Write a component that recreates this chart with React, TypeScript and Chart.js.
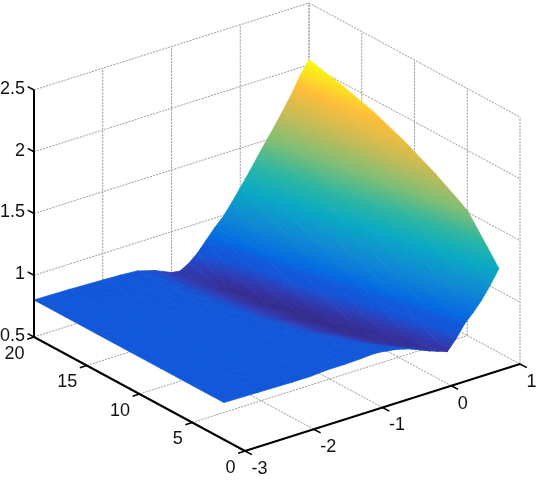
import React, { useEffect, useRef } from "react";
import { Chart, registerables } from "chart.js";

Chart.register(...registerables);

const xTicks = [-3, -2, -1, 0, 1];
const yTicks = [0, 5, 10, 15, 20];
const zTicks = [0.5, 1, 1.5, 2, 2.5];
const zTickLabels = ["0.5", "1", "1.5", "2", "2.5"];

const surfaceX = [-3, -2.5, -2, -1.75, -1.5, -1.25, -1, -0.875, -0.75, -0.625, -0.5, -0.375, -0.25, -0.125, 0, 0.125, 0.25, 0.375, 0.5, 0.625, 0.75, 0.875, 1];
const surfaceY = [20, 17, 14, 11, 8, 5, 2];

const zAtY20 = [0.8, 0.795, 0.785, 0.78, 0.77, 0.73, 0.67, 0.66, 0.7, 0.76, 0.84, 0.92, 0.99, 1.08, 1.18, 1.28, 1.385, 1.49, 1.59, 1.7, 1.81, 1.94, 2.04];
const zAtY17 = [0.8, 0.8, 0.795, 0.79, 0.775, 0.735, 0.68, 0.655, 0.63, 0.6, 0.67, 0.78, 0.89, 0.98, 1.06, 1.15, 1.25, 1.36, 1.49, 1.6, 1.73, 1.87, 1.98];
const zAtY14 = [0.8, 0.8, 0.8, 0.795, 0.785, 0.75, 0.7, 0.67, 0.645, 0.62, 0.595, 0.64, 0.76, 0.86, 0.95, 1.03, 1.12, 1.24, 1.39, 1.5, 1.62, 1.78, 1.905];
const zAtY11 = [0.8, 0.8, 0.8, 0.8, 0.795, 0.77, 0.72, 0.695, 0.665, 0.64, 0.615, 0.585, 0.625, 0.72, 0.83, 0.93, 1.01, 1.09, 1.18, 1.35, 1.5, 1.67, 1.8];
const zAtY8 = [0.8, 0.8, 0.8, 0.8, 0.8, 0.79, 0.755, 0.73, 0.7, 0.675, 0.65, 0.625, 0.6, 0.61, 0.68, 0.8, 0.9, 0.98, 1.06, 1.15, 1.3, 1.51, 1.67];
const zAtY5 = [0.8, 0.8, 0.8, 0.8, 0.8, 0.8, 0.795, 0.785, 0.765, 0.74, 0.71, 0.68, 0.65, 0.625, 0.605, 0.64, 0.77, 0.86, 0.94, 1.02, 1.12, 1.26, 1.515];
const zAtY2 = [0.8, 0.795, 0.79, 0.79, 0.8, 0.8, 0.805, 0.81, 0.81, 0.8, 0.79, 0.772, 0.75, 0.72, 0.69, 0.665, 0.64, 0.72, 0.82, 0.89, 0.97, 1.07, 1.18];
const surfaceZ = [zAtY20, zAtY17, zAtY14, zAtY11, zAtY8, zAtY5, zAtY2];

const colorZ = [0.585, 0.64, 0.7, 0.76, 0.81, 0.86, 1.0, 1.18, 1.33, 1.51, 1.685, 1.865, 2.04];
const colorRGB = [
  [52, 42, 138], [52, 50, 160], [42, 66, 190], [19, 86, 216], [18, 88, 218], [5, 105, 226], [15, 135, 212],
  [10, 170, 195], [45, 182, 162], [130, 190, 115], [200, 187, 85], [254, 190, 57], [249, 251, 14],
];

// Axonometric view of the 3-D box onto the chart's two linear scales
const project = (x: number, y: number, z: number) => ({
  x: 245 + (x + 3) * 68.75 - y * 10.55,
  y: 451 - (x + 3) * 21.75 - y * 5.7 - (z - 0.5) * 123.5,
});

const colorAt = (z: number) => {
  if (z <= colorZ[0]) return `rgb(${colorRGB[0].join(",")})`;
  for (let i = 1; i < colorZ.length; i++) {
    if (z <= colorZ[i]) {
      const t = (z - colorZ[i - 1]) / (colorZ[i] - colorZ[i - 1]);
      const c = colorRGB[i].map((v, k) => Math.round(colorRGB[i - 1][k] + (v - colorRGB[i - 1][k]) * t));
      return `rgb(${c.join(",")})`;
    }
  }
  return `rgb(${colorRGB[colorRGB.length - 1].join(",")})`;
};

type V = [number, number, number];

const triangleColor = (chart: any, tri: V[], cache: { v?: any }) => {
  if (cache.v) return cache.v;
  const sx = chart.scales.x;
  const sy = chart.scales.y;
  const pts = tri.map(([x, y, z]) => {
    const p = project(x, y, z);
    return { x: sx.getPixelForValue(p.x), y: sy.getPixelForValue(p.y), z };
  });
  const zs = pts.map((p) => p.z);
  const zMin = Math.min(...zs);
  const zMax = Math.max(...zs);
  // Scales are not laid out yet on the first option pass
  if (pts.some((p) => !Number.isFinite(p.x) || !Number.isFinite(p.y))) return colorAt(zMin);
  const [a, b, c] = pts;
  const det = (b.x - a.x) * (c.y - a.y) - (c.x - a.x) * (b.y - a.y);
  if (Math.abs(det) < 1e-3 || zMax - zMin < 1e-6) {
    cache.v = colorAt((zMin + zMax) / 2);
    return cache.v;
  }
  const gx = ((b.z - a.z) * (c.y - a.y) - (c.z - a.z) * (b.y - a.y)) / det;
  const gy = ((c.z - a.z) * (b.x - a.x) - (b.z - a.z) * (c.x - a.x)) / det;
  const n = gx * gx + gy * gy;
  const x0 = a.x + (gx * (zMin - a.z)) / n;
  const y0 = a.y + (gy * (zMin - a.z)) / n;
  const x1 = a.x + (gx * (zMax - a.z)) / n;
  const y1 = a.y + (gy * (zMax - a.z)) / n;
  const g = chart.ctx.createLinearGradient(x0, y0, x1, y1);
  g.addColorStop(0, colorAt(zMin));
  colorZ.forEach((z) => {
    if (z > zMin && z < zMax) g.addColorStop((z - zMin) / (zMax - zMin), colorAt(z));
  });
  g.addColorStop(1, colorAt(zMax));
  cache.v = g;
  return g;
};

const polyline = (verts: V[], color: string, width: number, dash: number[] = []) => ({
  data: verts.map(([x, y, z]) => project(x, y, z)),
  showLine: true,
  borderColor: color,
  borderWidth: width,
  borderDash: dash,
  pointRadius: 0,
  fill: false,
  tension: 0,
});

const triangleDataset = (tri: V[]) => {
  const cache: { v?: any } = {};
  const paint = (ctx: any) => triangleColor(ctx.chart, tri, cache);
  return {
    data: [...tri, tri[0]].map(([x, y, z]) => project(x, y, z)),
    showLine: true,
    fill: "shape",
    backgroundColor: paint,
    borderColor: paint,
    borderWidth: 0.8,
    pointRadius: 0,
    tension: 0,
  };
};

const buildDatasets = () => {
  const axes: any[] = [];
  const BLACK = "#000000";
  axes.push(polyline([[-3, 20, 0.5], [-3, 20, 2.5]], BLACK, 2));
  axes.push(polyline([[-3, 20, 0.5], [-3, 0, 0.5]], BLACK, 2));
  axes.push(polyline([[-3, 0, 0.5], [1, 0, 0.5]], BLACK, 2));
  xTicks.forEach((x) => axes.push(polyline([[x, 0, 0.5], [x, -0.65, 0.5]], BLACK, 1.5)));
  yTicks.forEach((y) => axes.push(polyline([[-3, y, 0.5], [-3.1, y, 0.5]], BLACK, 1.5)));
  zTicks.forEach((z) => axes.push(polyline([[-3, 20, z], [-3, 20.6, z]], BLACK, 1.5)));

  // Painter's order: index 0 is drawn last, so near cells come first
  const surface: any[] = [];
  for (let r = surfaceY.length - 2; r >= 0; r--) {
    for (let c = 0; c < surfaceX.length - 1; c++) {
      const v = (rr: number, cc: number): V => [surfaceX[cc], surfaceY[rr], surfaceZ[rr][cc]];
      surface.push(triangleDataset([v(r + 1, c), v(r + 1, c + 1), v(r, c)]));
      surface.push(triangleDataset([v(r + 1, c + 1), v(r, c + 1), v(r, c)]));
    }
  }

  const grid: any[] = [];
  const GREY = "#999999";
  const DASH = [2, 1.2];
  xTicks.forEach((x) => {
    if (x > -3) {
      grid.push(polyline([[x, 0, 0.5], [x, 20, 0.5]], GREY, 1, DASH));
      grid.push(polyline([[x, 20, 0.5], [x, 20, 2.5]], GREY, 1, DASH));
    }
  });
  yTicks.forEach((y) => {
    grid.push(polyline([[-3, y, 0.5], [1, y, 0.5]], GREY, 1, DASH));
    grid.push(polyline([[1, y, 0.5], [1, y, 2.5]], GREY, 1, DASH));
  });
  zTicks.forEach((z) => {
    if (z > 0.5) {
      grid.push(polyline([[-3, 20, z], [1, 20, z]], GREY, 1, DASH));
      grid.push(polyline([[1, 20, z], [1, 0, z]], GREY, 1, DASH));
    }
  });
  return [...axes, ...surface, ...grid];
};

const tickLabelPlugin = {
  id: "tickLabels3d",
  afterDraw(chart: any) {
    const { ctx, scales } = chart;
    const at = (x: number, y: number, z: number) => {
      const p = project(x, y, z);
      return { x: scales.x.getPixelForValue(p.x), y: scales.y.getPixelForValue(p.y) };
    };
    ctx.save();
    ctx.font = '18px "Liberation Sans", Arial, sans-serif';
    ctx.fillStyle = "#111111";
    ctx.textBaseline = "middle";
    ctx.textAlign = "right";
    zTicks.forEach((z, i) => {
      const p = at(-3, 20, z);
      ctx.fillText(zTickLabels[i], p.x - 9, p.y - 1);
    });
    yTicks.forEach((y) => {
      const p = at(-3, y, 0.5);
      ctx.fillText(String(y), p.x - 9.5, p.y + 17);
    });
    ctx.textAlign = "center";
    xTicks.forEach((x) => {
      const p = at(x, 0, 0.5);
      const label = String(x);
      ctx.fillText(label, p.x + 6.5 + ctx.measureText(label).width / 2, p.y + 18);
    });
    ctx.restore();
  },
};

export default function App() {
  const ref = useRef<HTMLCanvasElement | null>(null);
  useEffect(() => {
    if (!ref.current) return;
    const chart = new Chart(ref.current, {
      type: "scatter",
      data: { datasets: buildDatasets() },
      options: {
        animation: false,
        responsive: false,
        events: [],
        layout: { padding: 0 },
        plugins: { legend: { display: false }, tooltip: { enabled: false } },
        scales: {
          x: { type: "linear", min: 0, max: 540, display: false },
          y: { type: "linear", min: 0, max: 480, reverse: true, display: false },
        },
      },
      plugins: [tickLabelPlugin],
    } as any);
    return () => chart.destroy();
  }, []);
  return (
    <div style={{ position: "fixed", left: 0, top: 0, width: 540, height: 480, background: "#fff" }}>
      <canvas ref={ref} width={540} height={480} style={{ display: "block" }} />
    </div>
  );
}
